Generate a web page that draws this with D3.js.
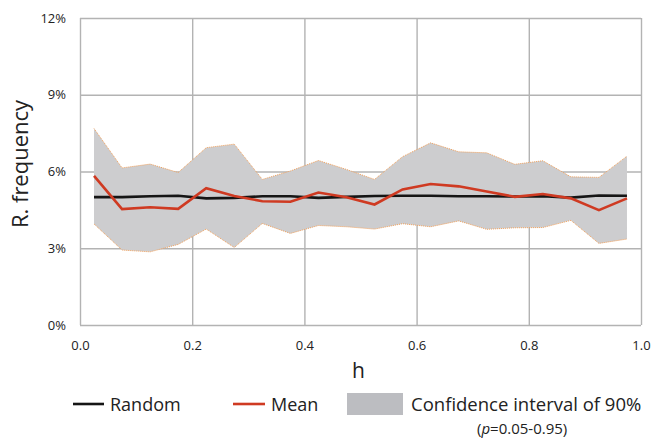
<!DOCTYPE html>
<html>
<head>
<meta charset="utf-8">
<script src="https://cdn.jsdelivr.net/npm/d3@7"></script>
<style>
  body { margin: 0; background: #fff; }
  text { font-family: 'Open Sans', 'Noto Sans', sans-serif; fill: #222; }
</style>
</head>
<body>
<div id="chart"></div>
<script>
// h bins (centres) and values in percent
const hValues = [0.025, 0.075, 0.125, 0.175, 0.225, 0.275, 0.325, 0.375, 0.425, 0.475,
  0.525, 0.575, 0.625, 0.675, 0.725, 0.775, 0.825, 0.875, 0.925, 0.975]
const ciUpper = [7.68, 6.14, 6.29, 5.96, 6.93, 7.07, 5.69, 6.02, 6.43, 6.08,
  5.69, 6.58, 7.12, 6.77, 6.73, 6.28, 6.42, 5.79, 5.77, 6.60]
const ciLower = [3.95, 2.93, 2.86, 3.15, 3.75, 3.03, 3.97, 3.58, 3.89, 3.84,
  3.75, 3.96, 3.84, 4.07, 3.74, 3.80, 3.81, 4.09, 3.19, 3.36]
const meanValues = [5.83, 4.53, 4.60, 4.54, 5.35, 5.04, 4.84, 4.82, 5.18, 4.99,
  4.71, 5.30, 5.51, 5.42, 5.22, 5.01, 5.12, 4.95, 4.49, 4.95]
const randomValues = [5.00, 5.00, 5.03, 5.05, 4.95, 4.97, 5.03, 5.03, 4.97, 5.01,
  5.04, 5.05, 5.05, 5.03, 5.03, 5.02, 5.03, 4.98, 5.06, 5.05]
const xTicks = [0, 0.2, 0.4, 0.6, 0.8, 1.0]
const yTicks = [0, 3, 6, 9, 12]

const canvasWidth = 652
const canvasHeight = 441
const margins = {top: 18, right: 11, bottom: 116, left: 80}
const width = canvasWidth - margins.left - margins.right
const height = canvasHeight - margins.top - margins.bottom

const xScale = d3.scaleLinear().domain([0, 1]).range([0, width])
const yScale = d3.scaleLinear().domain([0, 12]).range([height, 0])

const svg = d3.select('#chart')
  .append('svg')
  .attr('width', canvasWidth)
  .attr('height', canvasHeight)

const g = svg.append('g')
  .attr('transform', `translate(${margins.left}, ${margins.top})`)

// gridlines
const gridColor = '#b3b3b3'
g.append('g')
  .attr('transform', `translate(0, ${height})`)
  .call(d3.axisBottom(xScale).tickValues(xTicks).tickSize(-height).tickFormat(''))
  .call(a => a.select('.domain').remove())
  .selectAll('line').attr('stroke', gridColor).attr('stroke-width', 1.4)

g.append('g')
  .call(d3.axisLeft(yScale).tickValues(yTicks).tickSize(-width).tickFormat(''))
  .call(a => a.select('.domain').remove())
  .selectAll('line').attr('stroke', gridColor).attr('stroke-width', 1.4)

// tick labels
g.append('g')
  .attr('transform', `translate(0, ${height})`)
  .call(d3.axisBottom(xScale).tickValues(xTicks).tickSize(0).tickPadding(16).tickFormat(d3.format('.1f')))
  .call(a => a.select('.domain').remove())
  .selectAll('text').attr('font-size', 13).style('font-family', "'Open Sans', sans-serif").attr('fill', '#222')

g.append('g')
  .call(d3.axisLeft(yScale).tickValues(yTicks).tickSize(0).tickPadding(14).tickFormat(d => d + '%'))
  .call(a => a.select('.domain').remove())
  .selectAll('text').attr('font-size', 13).style('font-family', "'Open Sans', sans-serif").attr('fill', '#222')

// confidence band
const band = hValues.map((h, i) => ({h, lo: ciLower[i], hi: ciUpper[i]}))
g.append('path')
  .datum(band)
  .attr('fill', '#cdcdcf')
  .attr('d', d3.area().x(d => xScale(d.h)).y0(d => yScale(d.lo)).y1(d => yScale(d.hi)))

const edge = key => d3.line().x(d => xScale(d.h)).y(d => yScale(d[key]))
;['lo', 'hi'].forEach(key => {
  g.append('path')
    .datum(band)
    .attr('fill', 'none')
    .attr('stroke', '#f2a05a')
    .attr('stroke-width', 1)
    .attr('stroke-dasharray', '1,1')
    .attr('d', edge(key))
})

const seriesLine = d3.line().x(d => xScale(d[0])).y(d => yScale(d[1]))

g.append('path')
  .datum(hValues.map((h, i) => [h, randomValues[i]]))
  .attr('fill', 'none')
  .attr('stroke', '#151515')
  .attr('stroke-width', 2.6)
  .attr('d', seriesLine)

g.append('path')
  .datum(hValues.map((h, i) => [h, meanValues[i]]))
  .attr('fill', 'none')
  .attr('stroke', '#cf3a22')
  .attr('stroke-width', 2.6)
  .attr('d', seriesLine)

// axis titles
svg.append('text')
  .attr('transform', `translate(28, 164) rotate(-90)`)
  .attr('text-anchor', 'middle')
  .attr('font-size', 22)
  .text('R. frequency')

svg.append('text')
  .attr('x', margins.left + width / 2 - 2)
  .attr('y', 378)
  .attr('text-anchor', 'middle')
  .attr('font-size', 21)
  .text('h')

// legend
const legend = svg.append('g')
legend.append('line').attr('x1', 73).attr('x2', 104).attr('y1', 404).attr('y2', 404)
  .attr('stroke', '#151515').attr('stroke-width', 2.6)
legend.append('text').attr('x', 110).attr('y', 411).attr('font-size', 18).text('Random')
legend.append('line').attr('x1', 233).attr('x2', 265).attr('y1', 404).attr('y2', 404)
  .attr('stroke', '#cf3a22').attr('stroke-width', 2.6)
legend.append('text').attr('x', 271).attr('y', 411).attr('font-size', 18).text('Mean')
legend.append('rect').attr('x', 347).attr('y', 393).attr('width', 56).attr('height', 22)
  .attr('fill', '#bcbdc1')
legend.append('text').attr('x', 411).attr('y', 411).attr('font-size', 18.5).text('Confidence interval of 90%')
const pText = legend.append('text').attr('x', 477).attr('y', 434).attr('font-size', 15)
pText.append('tspan').text('(')
pText.append('tspan').attr('font-style', 'italic').text('p')
pText.append('tspan').text('=0.05-0.95)')
</script>
</body>
</html>
